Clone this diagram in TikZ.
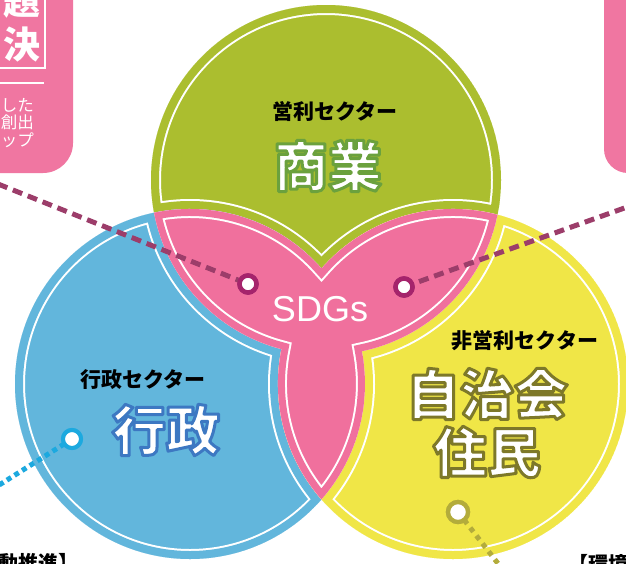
\documentclass[tikz,border=0pt]{standalone}
\usepackage{fontspec}
\setmainfont{Liberation Sans}
\newfontfamily\cjk{Noto Sans CJK JP}
\definecolor{cG}{HTML}{ABBE2F}
\definecolor{cB}{HTML}{62B6DC}
\definecolor{cY}{HTML}{F0E647}
\definecolor{cP}{HTML}{F0709D}
\definecolor{cBox}{HTML}{F076A1}
\definecolor{cM}{HTML}{9C3D6A}
\definecolor{cMr}{HTML}{A5246C}
\definecolor{cBd}{HTML}{1CA9DF}
\definecolor{cOl}{HTML}{B3AC3B}
\newcommand\outlined[2]{\special{pdf:literal 2 Tr 1 j 3 w #1 RG}#2\special{pdf:literal 0 Tr}}
\tikzset{
  ring/.style={circle, draw=#1, fill=white, line width=4.5pt, minimum size=17pt, inner sep=0pt},
  magdash/.style={draw=cM, line width=5pt, dash pattern=on 10pt off 6pt},
  bluedots/.style={draw=cBd, line width=5pt, dash pattern=on 5pt off 4pt},
  olivedots/.style={draw=cOl, line width=5pt, dash pattern=on 5pt off 5pt},
  sector/.style={font=\cjk\bfseries\fontsize{21}{21}\selectfont, text=black, inner sep=0pt},
  bigname/.style={font=\cjk\bfseries\fontsize{54}{58}\selectfont, text=white, inner sep=0pt, align=center},
  boxbig/.style={anchor=east, text=white, inner sep=0pt, font=\cjk\bfseries\fontsize{37}{37}\selectfont},
  boxsmall/.style={anchor=east, text=white, inner sep=0pt, font=\cjk\fontsize{16.5}{16.5}\selectfont},
}
\begin{document}
\begin{tikzpicture}[x=1pt,y=-1pt]
\useasboundingbox (0,0) rectangle (626,563);
\clip (0,0) rectangle (626,563);
\fill[white] (0,0) rectangle (626,563);
\coordinate (G) at (326,180);
\coordinate (B) at (190,384);
\coordinate (Y) at (453,384);
\def\R{175}
% ---- single-colour regions with inset white outline
\foreach \c/\col in {G/cG, B/cB, Y/cY}{
  \begin{scope}
    \clip (\c) circle[radius=\R];
    \fill[\col] (\c) circle[radius=\R];
    \draw[white, line width=20pt] (G) circle[radius=\R] (B) circle[radius=\R] (Y) circle[radius=\R];
    \draw[\col, line width=16pt] (G) circle[radius=\R] (B) circle[radius=\R] (Y) circle[radius=\R];
  \end{scope}
}
% ---- pink overlap region (covered by at least two circles)
\coordinate (J1) at (154.1,212.7);
\def\Ppath{(J1) arc[start angle=-101.84, end angle=-41.29, radius=\R]
  arc[start angle=-138.71, end angle=-75.27, radius=\R]
  arc[start angle=11.47, end angle=78.16, radius=\R]
  arc[start angle=-10.77, end angle=41.29, radius=\R]
  arc[start angle=138.71, end angle=191.47, radius=\R]
  arc[start angle=104.73, end angle=169.23, radius=\R] -- cycle}
\begin{scope}
  \clip \Ppath;
  \fill[cP] \Ppath;
  \draw[white, line width=18pt, line join=miter] \Ppath;
  \draw[cP, line width=14pt, line join=miter] \Ppath;
\end{scope}
% ---- corner boxes
\fill[cBox, rounded corners=30pt] (-60,-60) rectangle (73,173);
\fill[cBox, rounded corners=24pt] (604,-60) rectangle (700,173);
\draw[white, line width=2pt] (-10,-10) rectangle (45,68);
\draw[white, line width=2pt] (-10,83) -- (44,83);
\node[boxbig] (tdai) at (41,1) {題};
\node[boxbig] (tketsu) at (41,45) {決};
\node[boxsmall] (tl1) at (34,105) {した};
\node[boxsmall] (tl2) at (34,122) {創出};
\node[boxsmall] (tl3) at (34,140) {ップ};
% ---- connectors
\coordinate (eTL) at (-2,184);
\coordinate (eTR) at (630,206);
\coordinate (eBL) at (-4,487);
\coordinate (eBR) at (503,570);
\node[ring=cMr] (dotL) at (248,284) {};
\node[ring=cMr] (dotR) at (404,287) {};
\node[ring=cBd, minimum size=18pt, line width=4pt] (dotB) at (72,439) {};
\node[ring=cOl, minimum size=20pt, line width=4.3pt] (dotY) at (458,512) {};
\draw[magdash] (eTL) -- (dotL.center);
\draw[magdash] (dotR.center) -- (eTR);
\draw[bluedots] (dotB.center) -- (eBL);
\draw[olivedots] (dotY.center) -- (eBR);
\node[ring=cMr] at (dotL) {};
\node[ring=cMr] at (dotR) {};
\node[ring=cBd, minimum size=18pt, line width=4pt] at (dotB) {};
\node[ring=cOl, minimum size=20pt, line width=4.3pt] at (dotY) {};
% ---- texts
\node[sector] (s1) at (335,111) {営利セクター};
\node[bigname] (n1) at (328,166) {\outlined{0.42 0.63 0.24}{商業}};
\node[text=white, inner sep=0pt, font=\fontsize{36}{36}\selectfont] (sdg) at (320,309) {SDGs};
\node[sector] (s2) at (143,380) {行政セクター};
\node[bigname] (n2) at (166,430) {\outlined{0.24 0.47 0.76}{行政}};
\node[sector] (s3) at (525,341) {非営利セクター};
\node[bigname] (n3) at (487,423) {\outlined{0.49 0.47 0.16}{自治会}\\\outlined{0.49 0.47 0.16}{住民}};
\node[anchor=west, inner sep=0pt, font=\cjk\bfseries\fontsize{20}{20}\selectfont] (bl) at (-2,563) {動推進】};
\node[anchor=west, inner sep=0pt, font=\cjk\bfseries\fontsize{20}{20}\selectfont] (br) at (568,564) {【環境};
\end{tikzpicture}
\end{document}
